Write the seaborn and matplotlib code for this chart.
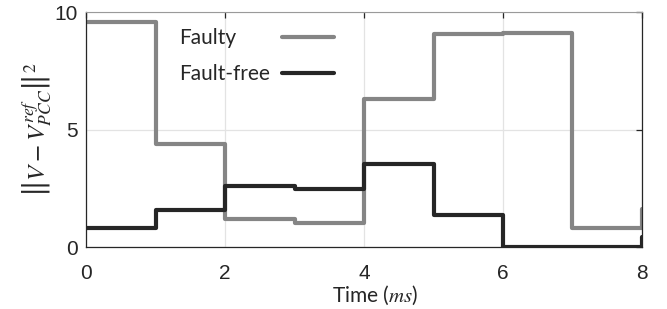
import pandas as pd
import seaborn as sns
import matplotlib.pyplot as plt

# values at each ms (step held until next sample)
time_ms = [0, 1, 2, 3, 4, 5, 6, 7, 8]
faulty = [9.59, 4.40, 1.19, 1.03, 6.31, 9.06, 9.09, 0.82, 1.60]
fault_free = [0.82, 1.57, 2.61, 2.47, 3.53, 1.36, 0.01, 0.00, 0.43]
series_names = ["Faulty", "Fault-free"]
x_ticks = [0, 2, 4, 6, 8]
y_ticks = [0, 5, 10]

df = pd.DataFrame({
    "time": time_ms * 2,
    "value": faulty + fault_free,
    "series": [series_names[0]] * len(time_ms) + [series_names[1]] * len(time_ms),
})

sns.set_style("white")
plt.rcParams["font.family"] = ["Liberation Sans", "DejaVu Sans"]
plt.rcParams["mathtext.fontset"] = "stix"

fig = plt.figure(figsize=(6.67, 3.09), dpi=100)
ax = fig.add_axes([0.129, 0.2006, 0.8335, 0.7604])

sns.lineplot(data=df, x="time", y="value", hue="series",
             palette={"Faulty": "#858585", "Fault-free": "#262626"},
             drawstyle="steps-post", linewidth=3.0, ax=ax)

ax.set_xlim(0, 8)
ax.set_ylim(0, 10)
ax.set_xticks(x_ticks)
ax.set_yticks(y_ticks)
ax.grid(True, color="#e3e3e3", linewidth=0.9)
ax.set_axisbelow(True)
ax.tick_params(direction="in", length=4, width=0.9, colors="#262626",
               labelsize=15, top=True, right=True, pad=6)
ax.tick_params(axis="x", pad=12)
for s in ["left", "bottom", "right"]:
    ax.spines[s].set_color("#262626")
    ax.spines[s].set_linewidth(0.9)
ax.spines["top"].set_color("#9a9a9a")

ax.set_xlabel("Time ($ms$)", fontsize=15, family=["Lato", "DejaVu Sans"],
              labelpad=1, x=0.52)
ax.set_ylabel(r"$\left\Vert V - V_{PCC}^{ref}\right\Vert^2$", fontsize=18, labelpad=0)

leg = ax.legend(loc="upper left", bbox_to_anchor=(0.133, 1.01), frameon=False,
                markerfirst=False, handlelength=2.5, handletextpad=0.6,
                labelspacing=0.75, prop={"family": ["Lato", "DejaVu Sans"], "size": 15})

# left-align the labels while keeping the line samples in one column
fig.canvas.draw()
column = leg._legend_handle_box.get_children()[0]
column.align = "left"
widths = [t.get_window_extent().width for t in leg.get_texts()]
for item, w in zip(column.get_children(), widths):
    item.sep += (max(widths) - w) * 72 / fig.dpi

fig.savefig("out.png", dpi=100)
